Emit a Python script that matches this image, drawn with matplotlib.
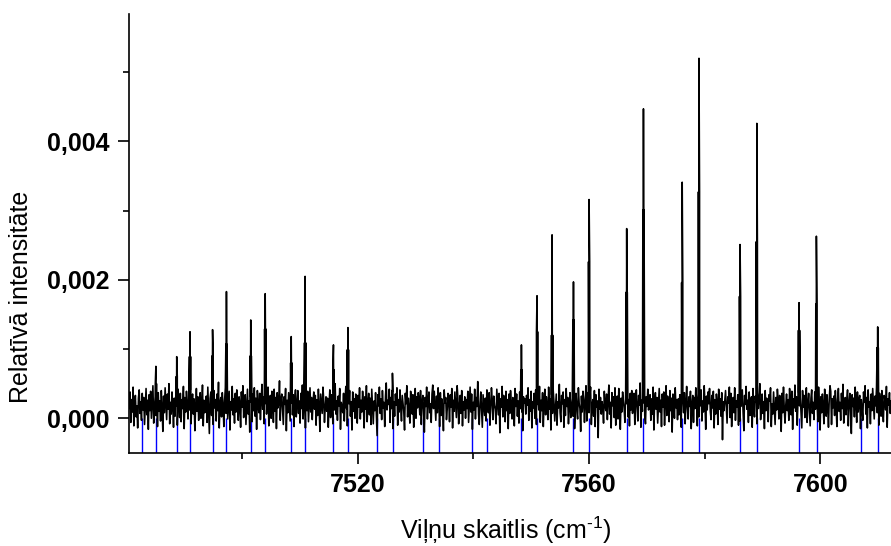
import numpy as np
import matplotlib
matplotlib.use('Agg')
import matplotlib.pyplot as plt
from matplotlib.ticker import FixedLocator, FuncFormatter

plt.rcParams['font.family'] = ['Liberation Sans', 'DejaVu Sans']
plt.rcParams['mathtext.fontset'] = 'custom'
plt.rcParams['mathtext.rm'] = 'Liberation Sans'
plt.rcParams['mathtext.default'] = 'regular'

# wavenumber range of the recorded spectrum (cm-1)
wn_start, wn_end = 7480.5, 7612.2

# baseline noise, units of 1e-5
noise = [
    14, 38, -6, 27, 9, 45, -11, 21, 33, 2, 18, -14, 29, 41, 7, 24, -3, 36, 12, 30,
    -9, 19, 43, 5, 26, -16, 34, 11, 39, 0, 22, 47, -7, 16, 31, 4, 28, -12, 37, 10,
    25, -4, 40, 15, -19, 32, 8, 44, 20, -2, 35, 13, 50, -8, 23, 6, 38, 17, -13, 29,
    3, 33, 18, -10, 42, 24, 1, 36, -5, 27, 14, 46, -15, 30, 9, 39, 21, -1, 34, 12,
    41, -8, 22, 35, 6, 28, -18, 16, 43, 10, 31, -3, 25, 37, 0, 19, 48, -11, 26, 8,
    17, 32, -6, 45, 13, -22, 29, 38, 4, 23, -9, 40, 15, 27, -4, 35, 11, 52, -14, 21,
    30, 2, 37, 19, -12, 26, 44, 7, 33, -1, 20, 39, -17, 24, 12, 46, 5, 28, -7, 36,
    9, 41, 14, -3, 31, 22, -13, 38, 16, 47, 1, 27, 34, -9, 18, 42, 6, 25, -20, 32,
    23, -5, 35, 11, 44, 3, 29, -16, 40, 19, 8, 36, -2, 26, 49, 13, 31, -8, 21, 38,
    6, 28, 45, -11, 17, 33, 0, 39, 24, -6, 42, 10, 30, -15, 37, 15, 22, 54, -3, 27,
    35, 12, -9, 31, 20, 43, -18, 26, 8, 37, 16, -4, 46, 22, 5, 34, -12, 29, 41, 2,
    18, 40, 7, 25, -7, 36, 14, 48, -1, 23, 32, -14, 28, 11, 39, -5, 21, 44, 9, 30,
    -2, 24, 38, 13, 33, -10, 27, 4, 42, 17, -19, 35, 20, 7, 45, 26, -6, 16, 31, 10,
    29, -13, 19, 41, 1, 34, 22, -8, 37, 12, 50, 6, 25, -3, 32, 18, 43, -16, 23, 15,
    8, 36, -4, 27, 46, 14, -11, 30, 21, 40, 3, 24, -17, 38, 10, 28, 0, 35, 19, -7,
    33, 16, 44, -1, 26, 9, 39, 20, -14, 31, 13, 47, -5, 22, 36, 5, 29, -9, 42, 17,
    -8, 25, 11, 37, 4, -25, 34, 18, 45, 7, 28, -2, 40, 15, 23, -12, 32, 51, 12, 26,
    20, 42, -6, 30, 14, 38, -15, 24, 3, 35, 19, 44, -10, 27, 9, 41, 16, -4, 33, 22,
    10, -17, 36, 21, 47, 2, 29, 13, -7, 39, 25, 6, 34, -13, 18, 43, 0, 31, 15, 37,
    27, 5, 40, -9, 23, 33, 11, -20, 30, 17, 45, -1, 26, 38, 8, 21, -6, 35, 48, 14,
    39, 19, -3, 32, 8, 44, 24, -12, 37, 4, 28, 15, -18, 41, 22, 30, -2, 13, 36, 25,
    -5, 34, 16, 43, -14, 26, 10, 38, 20, 1, 47, 29, -8, 18, 33, 7, 40, -11, 24, 12,
    31, 0, 27, 14, 39, -6, 21, 45, 9, 35, -16, 23, 12, 42, -1, 30, 17, 53, 6, -9,
    22, 38, 11, -13, 34, 18, 4, 29, -4, 41, 26, 8, 37, -10, 15, 44, 25, -2, 32, 19,
    13, -8, 42, 23, 5, 36, -21, 28, 16, 46, 2, 33, 20, -5, 39, 11, 27, -15, 35, 7,
    40, 21, -1, 30, 12, -11, 43, 17, 35, 3, 25, -7, 38, 14, 48, 9, -18, 31, 22, 28,
    6, 33, 19, 44, -3, 27, 10, 39, -14, 24, 15, 36, 0, 41, -9, 20, 29, 12, 46, -6,
    26, 11, 37, -12, 22, 42, 5, 31, 18, -2, 45, 13, 28, -17, 34, 7, 40, 23, -4, 16,
    35, -10, 24, 15, 49, 8, -5, 33, 21, 38, -13, 27, 4, 43, 17, 30, -8, 19, 37, 1,
    18, 29, 3, 41, -15, 26, 36, 10, -1, 44, 22, 14, -19, 32, 9, 39, 24, -6, 28, 47,
    -4, 37, 22, 8, 31, 45, -9, 19, 27, 3, 40, -12, 34, 16, 25, -28, 42, 13, 30, 6,
    24, 15, -7, 39, 20, 11, 35, -2, 28, 48, 6, 23, -14, 37, 18, 31, 1, 44, -10, 26,
    32, -1, 43, 17, -16, 29, 9, 38, 25, 14, -6, 34, 21, 46, 2, 27, -11, 36, 12, 40,
    7, 27, 36, -9, 23, 41, 15, -4, 33, 19, 51, -13, 26, 10, 39, 22, 4, -8, 31, 17,
    42, 12, 20, 34, -3, 28, 6, 45, -17, 24, 37, 13, 30, -7, 18, 43, 9, 26, -12, 35,
    16, 38, -10, 25, 47, 4, 32, 21, -5, 40, 11, 29, -20, 35, 23, 0, 44, 15, 27, -2,
    28, 5, 34, 19, -13, 42, 24, 8, 37, -8, 22, 46, 14, -1, 31, 17, 39, -15, 20, 33,
    -6, 30, 14, 44, 26, -11, 36, 2, 29, 18, 41, -4, 25, 9, 47, 21, -16, 32, 12, 38,
    21, 43, 10, -2, 33, 15, 39, -14, 27, 6, 35, 23, -9, 42, 13, 28, 3, 37, -31, 24,
    11, 26, 40, 18, -7, 31, 22, 45, 1, 36, -12, 19, 30, 8, 44, -3, 25, 16, 34, -10,
    36, -4, 17, 29, 41, 9, -18, 33, 20, 46, 13, 26, -6, 38, 4, 22, 31, -13, 43, 15,
    2, 32, 23, -8, 37, 14, 28, 50, -2, 19, 35, 7, 24, -15, 40, 11, 29, 18, -5, 34,
    25, 44, -12, 21, 6, 38, 16, -9, 30, 12, 42, 27, -1, 33, 20, -19, 36, 8, 45, 14,
    -7, 19, 35, 11, 27, -3, 43, 22, 5, 39, -16, 28, 15, 48, 10, 31, -10, 24, 37, 18,
    30, 9, -14, 40, 16, 33, 1, 26, 44, -6, 21, 36, 12, -11, 29, 41, 7, 23, -2, 38,
    13, 37, 24, -5, 45, 20, -17, 31, 8, 35, 18, -8, 42, 26, 3, 34, 15, -13, 28, 47,
    39, -9, 28, 15, 32, 4, 40, 19, -12, 27, 43, 10, 23, -3, 36, 14, 49, -7, 21, 30,
    5, 25, 41, -11, 20, 36, 12, -22, 34, 17, 29, 2, 45, 22, -6, 38, 9, 26, 33, -15,
    27, 14, -3, 38, 23, 47, 6, 30, -14, 41, 16, 24, -8, 35, 11, 43, 20, -1, 32, 18,
    44, 8, 29, -10, 36, 21, 3, 40, 15, -5, 33, 26, 12, 46, -13, 28, 19, 37, 7, 25,
]

# absorption lines seen in the spectrum
peak_wn = [7485.1, 7488.7, 7491.0, 7494.9, 7497.3, 7501.5, 7504.0, 7508.5, 7510.9,
           7515.8, 7518.3, 7526.0, 7548.3, 7551.0, 7553.6, 7557.3, 7560.0, 7566.5,
           7569.4, 7576.1, 7579.0, 7586.1, 7589.0, 7596.3, 7599.3, 7609.9]
peak_top = [0.00075, 0.00089, 0.00125, 0.00128, 0.00183, 0.00142, 0.00180, 0.00118, 0.00205,
            0.00106, 0.00131, 0.00065, 0.00106, 0.00177, 0.00265, 0.00197, 0.00316, 0.00274,
            0.00447, 0.00341, 0.00520, 0.00251, 0.00426, 0.00167, 0.00263, 0.00132]
peak_shoulder = [0.00050, 0.00060, 0.00089, 0.00090, 0.00107, 0.00090, 0.00129, 0.00080, 0.00109,
                 0.00070, 0.00099, 0.00040, 0.00070, 0.00125, 0.00120, 0.00142, 0.00226, 0.00182,
                 0.00301, 0.00196, 0.00327, 0.00176, 0.00255, 0.00127, 0.00165, 0.00102]

# calculated line positions (blue markers)
calc_wn = [7482.77, 7485.08, 7488.71, 7490.96, 7494.94, 7497.29, 7501.50, 7503.98,
           7508.47, 7510.94, 7515.78, 7518.32, 7523.34, 7526.05, 7531.34, 7534.05,
           7539.71, 7542.35, 7548.28, 7551.05, 7557.27, 7560.03, 7566.50, 7569.37,
           7576.11, 7579.05, 7586.09, 7589.02, 7596.28, 7599.34, 7606.95, 7609.89]

y_min, y_max = -0.000506, 0.00584

# build spectrum: baseline samples + line profiles
x = list(np.linspace(wn_start, wn_end, len(noise)))
y = [v * 1e-5 for v in noise]
for c, h, s in zip(peak_wn, peak_top, peak_shoulder):
    x += [c - 0.1, c, c + 0.1]
    y += [s, h, s]
order = np.argsort(x)
x = np.array(x)[order]
y = np.array(y)[order]

fig = plt.figure(figsize=(8.91, 5.46), dpi=100)
ax = fig.add_axes([0.1451, 0.1698, 0.8549, 0.8046])

ax.vlines(calc_wn, y_min, 0, color='#0000ff', linewidth=1.0, zorder=1)
ax.plot(x, y, color='black', linewidth=1.15, zorder=2)

ax.set_xlim(wn_start, wn_end)
ax.set_ylim(y_min, y_max)

ax.xaxis.set_major_locator(FixedLocator([7520, 7560, 7600]))
ax.xaxis.set_minor_locator(FixedLocator([7500, 7540, 7580]))
ax.yaxis.set_major_locator(FixedLocator([0.0, 0.002, 0.004]))
ax.yaxis.set_minor_locator(FixedLocator([0.001, 0.003, 0.005]))
ax.xaxis.set_major_formatter(FuncFormatter(lambda v, p: f'{v:.0f}'))
ax.yaxis.set_major_formatter(FuncFormatter(lambda v, p: f'{v:.3f}'.replace('.', ',')))

for side in ['top', 'right']:
    ax.spines[side].set_visible(False)
for side in ['left', 'bottom']:
    ax.spines[side].set_linewidth(1.2)

ax.tick_params(which='major', direction='out', length=8, width=1.2, pad=6)
ax.tick_params(which='minor', direction='out', length=4, width=1.2)
for lbl in ax.get_xticklabels() + ax.get_yticklabels():
    lbl.set_fontsize(18)
    lbl.set_fontweight('bold')

ax.set_ylabel('Relatīvā intensitāte', fontsize=18)
ax.yaxis.set_label_coords(-0.1264, 0.356)
ax.set_xlabel('Viļņu skaitlis (cm$^{\\text{-1}}$)', fontsize=18)
ax.xaxis.set_label_coords(0.4946, -0.14)

fig.savefig('out.png', dpi=100)
